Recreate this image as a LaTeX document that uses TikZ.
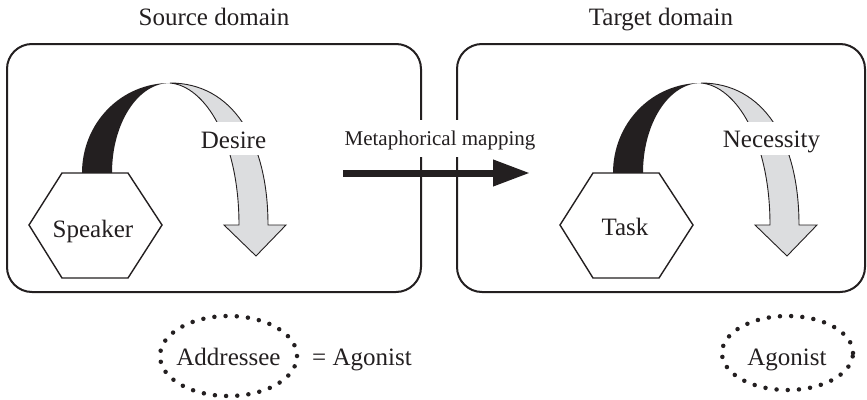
\documentclass[tikz,border=0pt]{standalone}
\usepackage{fontspec}
\setmainfont{Liberation Serif}
\usetikzlibrary{arrows.meta,shapes.geometric}
\definecolor{ink}{RGB}{35,31,32}
\definecolor{bandgrey}{RGB}{220,221,223}

\begin{document}
\begin{tikzpicture}[x=1pt,y=-1pt,
  domainbox/.style={draw=ink, line width=2pt, rounded corners=25pt, inner sep=0pt},
  hexline/.style={draw=ink, line width=1.4pt, fill=white, line join=miter},
  lbl/.style={text=ink, font=\fontsize{25}{30}\selectfont, inner sep=0pt},
  maplbl/.style={text=ink, font=\fontsize{21}{25}\selectfont},
  blackband/.style={fill=ink},
  greyband/.style={fill=bandgrey, draw=ink, line width=0.9pt, line join=miter},
  cover/.style={fill=white, inner xsep=2pt, inner ysep=2pt},
  dotring/.style={draw=ink, line width=4.5pt, line cap=round,
    dash pattern=on 0pt off 11.2pt, shape=ellipse, inner sep=0pt},
]
\useasboundingbox (0,0) rectangle (867,399);

% the two domain frames and their titles
\node[domainbox, minimum width=414pt, minimum height=248pt] (source) at (214,168) {};
\node[domainbox, minimum width=408pt, minimum height=248pt] (target) at (661,168) {};
\node[lbl, anchor=base] (sourcetitle) at (214,25) {Source domain};
\node[lbl, anchor=base] (targettitle) at (661,25) {Target domain};

% source domain: force band rising from the hexagon and bending down
\fill[blackband] (82,173) .. controls (82,123) and (121,83) .. (170,83)
  .. controls (138,83) and (112,123) .. (112,173) -- cycle;
\draw[greyband] (170,83) .. controls (232,83) and (268,140) .. (268,225)
  -- (286,225) -- (256,256) -- (224,225) -- (239,225)
  .. controls (239,140) and (205,86) .. (170,83) -- cycle;
\draw[hexline] (29,225) -- (62,173) -- (128,173) -- (162,225) -- (128,278) -- (62,278) -- cycle;
\node[lbl, anchor=base] (speaker) at (93,237) {Speaker};
\node[lbl, cover, anchor=base, text height=24pt, text depth=5pt] (desire) at (233.5,148) {Desire};

% target domain: the same band, shifted
\begin{scope}[xshift=531pt]
\fill[blackband] (82,173) .. controls (82,123) and (121,83) .. (170,83)
  .. controls (138,83) and (112,123) .. (112,173) -- cycle;
\draw[greyband] (170,83) .. controls (232,83) and (268,140) .. (268,225)
  -- (286,225) -- (256,256) -- (224,225) -- (239,225)
  .. controls (239,140) and (205,86) .. (170,83) -- cycle;
\draw[hexline] (29,225) -- (62,173) -- (128,173) -- (162,225) -- (128,278) -- (62,278) -- cycle;
\end{scope}
\node[lbl, anchor=base] (task) at (625,235) {Task};
\node[lbl, cover, anchor=base, text height=23pt, text depth=6pt] (necessity) at (771.5,147) {Necessity};

% mapping arrow between the domains
\coordinate (mapfrom) at (343,173);
\coordinate (mapto) at (530,173);
\draw[ink, line width=7pt, -{Triangle[length=37pt,width=25pt]}] (mapfrom) -- (mapto);
\node[maplbl, cover, anchor=base, text height=23pt, text depth=10pt] (maplabel) at (440,145) {Metaphorical mapping};

% agonist roles
\node[dotring, minimum width=137pt, minimum height=80pt] (addrring) at (228.5,356) {};
\node[lbl, anchor=base] (addressee) at (228.5,365) {Addressee};
\node[lbl, anchor=base] (equals) at (362,365) {= Agonist};
\node[dotring, minimum width=131pt, minimum height=74pt] (agring) at (787.5,353) {};
\node[lbl, anchor=base] (agonist) at (787,365) {Agonist};
\end{tikzpicture}
\end{document}
